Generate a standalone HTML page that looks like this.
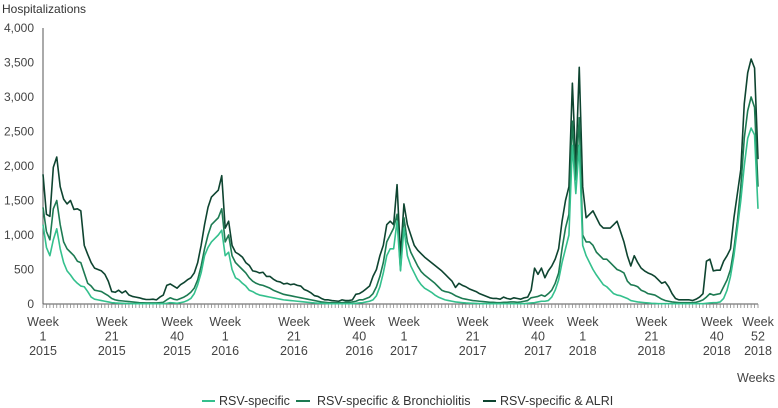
<!DOCTYPE html>
<html><head><meta charset="utf-8"><style>
body{margin:0;background:#fff;}
svg{display:block;font-family:"Liberation Sans",sans-serif;}
</style></head><body>
<svg id="chart" width="778" height="408" xmlns="http://www.w3.org/2000/svg">
<text x="2" y="13" font-size="12" fill="#333">Hospitalizations</text>
<text x="737" y="382" font-size="12.5" fill="#444">Weeks</text>
<g id="grid"></g>
<g id="series"></g>
<g>
<line x1="202" y1="401" x2="215" y2="401" stroke="#34c08d" stroke-width="2"/>
<text x="219" y="405" font-size="12.5" fill="#333">RSV-specific</text>
<line x1="296" y1="401" x2="310" y2="401" stroke="#1d7a52" stroke-width="2"/>
<text x="317" y="405" font-size="12.5" fill="#333">RSV-specific &amp; Bronchiolitis</text>
<line x1="483" y1="401" x2="496" y2="401" stroke="#0e4430" stroke-width="2"/>
<text x="500" y="405" font-size="12.5" fill="#333">RSV-specific &amp; ALRI</text>
</g>
</svg>
<script>
const alri = [1880,1300,1270,1980,2130,1700,1520,1450,1500,1370,
1380,1350,850,720,600,520,500,480,430,330,
180,170,200,160,190,130,110,100,90,75,
65,65,70,60,100,130,270,290,260,230,
280,310,350,380,450,600,850,1150,1400,1550,1600,1650,1860,
1100,1200,850,750,720,680,600,560,480,470,
450,460,400,400,360,330,320,290,300,280,
290,270,260,210,190,160,120,110,80,60,
60,50,45,40,60,50,50,60,140,150,
180,220,260,400,500,700,850,1150,1200,1150,1730,700,
1450,1150,1000,850,780,730,680,640,600,560,
520,480,430,380,330,240,300,270,250,220,
200,180,150,130,110,90,80,80,70,100,
80,70,90,80,70,90,100,200,520,430,
520,380,480,550,650,800,1200,1500,1700,3200,2000,3430,
1700,1250,1300,1350,1250,1150,1100,1100,1100,1150,
1200,1050,900,700,550,700,600,520,480,450,
430,400,350,300,320,250,150,80,60,60,
60,60,50,70,100,150,620,650,480,490,
490,620,700,800,1250,1600,1950,2900,3350,3550,3420,2100];
const bronch = [1400,1050,930,1380,1500,1150,900,800,750,700,
620,600,450,300,260,200,190,180,150,120,
80,60,50,45,40,35,30,25,20,18,
15,15,15,15,20,25,60,90,70,60,
80,100,130,170,230,350,550,800,1000,1150,1200,1250,1380,
900,1000,700,600,550,500,450,380,330,300,
280,270,250,230,200,180,160,140,130,120,
110,100,90,80,70,60,50,40,30,25,
20,20,20,20,20,25,25,30,40,60,
60,80,100,150,250,400,600,900,1000,1100,1300,500,
1250,900,750,650,550,470,420,380,340,300,
250,200,180,170,150,120,100,80,70,60,
50,45,40,35,30,25,25,20,20,25,
25,30,30,25,30,40,50,90,100,110,
130,110,150,200,300,450,800,1100,1300,2650,1800,2700,
1000,900,900,850,750,700,650,650,600,550,
500,480,450,330,280,270,250,200,180,150,
140,130,100,70,50,40,30,25,20,20,
20,20,20,25,40,60,100,150,130,140,
150,250,350,500,800,1200,1700,2400,2800,3000,2850,1700];
const rsv = [1150,820,700,930,1090,800,600,480,420,350,
300,260,250,180,100,70,60,50,40,30,
20,15,12,10,8,6,5,5,5,5,
5,5,5,5,5,5,10,20,15,10,
20,30,50,80,150,280,450,700,820,900,950,1000,1070,
700,750,500,380,350,300,260,200,180,150,
130,120,110,100,90,80,70,60,55,50,
45,40,35,30,25,20,15,12,10,8,
5,5,5,5,5,5,5,5,10,15,
20,30,40,60,120,250,450,700,800,800,1200,480,
1100,700,550,450,350,280,230,200,170,130,
100,80,60,50,40,30,25,20,15,12,
10,8,6,5,5,5,5,5,5,5,
5,5,5,5,5,5,10,15,20,30,
40,40,50,100,200,350,600,800,1000,2300,1600,2300,
850,700,600,500,420,350,280,250,200,150,
130,120,100,80,50,40,30,25,20,15,
10,8,5,5,5,5,5,5,5,5,
5,5,5,5,5,5,10,15,20,20,
30,80,200,400,700,1100,1500,2000,2400,2550,2450,1380];
const yTicks = [0,500,1000,1500,2000,2500,3000,3500,4000];
const yTickLabels = ["0","500","1,000","1,500","2,000","2,500","3,000","3,500","4,000"];
const xLabelIdx = [0,20,39,53,73,92,105,125,144,157,177,196,208];
const xLabelWeek = ["1","21","40","1","21","40","1","21","40","1","21","40","52"];
const xLabelYear = ["2015","2015","2015","2016","2016","2016","2017","2017","2017","2018","2018","2018","2018"];

const NS = "http://www.w3.org/2000/svg";
const X0 = 43, X1 = 758, Y0 = 304, Y1 = 28, N = 209;
function xs(i){ return X0 + i*(X1-X0)/(N-1); }
function ys(v){ return Y0 - v*(Y0-Y1)/4000; }
function mk(tag, attrs, parent){
  const e = document.createElementNS(NS, tag);
  for (const k in attrs) e.setAttribute(k, attrs[k]);
  parent.appendChild(e); return e;
}
const grid = document.getElementById('grid');
const ser = document.getElementById('series');
const yAxis = mk('line',{x1:X0,y1:Y1,x2:X0,y2:Y0,stroke:'#555','stroke-width':1},grid);


const xAxis = mk('line',{x1:X0,y1:Y0,x2:X1,y2:Y0,stroke:'#555','stroke-width':1},grid);


yTicks.forEach((v,k)=>{
  const t = mk('text',{x:34,y:ys(v)+4,'font-size':12,fill:'#444','text-anchor':'end'},grid);
  t.textContent = yTickLabels[k];
  
  
});
for (let i=0;i<N;i++){
  const tk = mk('line',{x1:xs(i),y1:Y0,x2:xs(i),y2:Y0+4,stroke:'#888','stroke-width':0.8},grid);
  
  
}
xLabelIdx.forEach((idx,k)=>{
  const t = mk('text',{x:xs(idx),y:326,'font-size':12.5,fill:'#444','text-anchor':'middle'},grid);
  
  
  const lines = ["Week", xLabelWeek[k], xLabelYear[k]];
  lines.forEach((s,j)=>{
    const sp = mk('tspan',{x:xs(idx),dy:j===0?0:14.5},t);
    sp.textContent = s;
  });
});
function drawLine(data, color, name){
  const d = data.map((v,i)=>(i?'L':'M')+xs(i).toFixed(2)+','+ys(v).toFixed(2)).join('');
  const p = mk('path',{d:d,fill:'none',stroke:color,'stroke-width':1.6,'stroke-linejoin':'round'},ser);
  
  
}
drawLine(alri,'#0e4430','line-rsv-alri');
drawLine(bronch,'#1d7a52','line-rsv-bronchiolitis');
drawLine(rsv,'#34c08d','line-rsv-specific');
</script>
</body></html>
